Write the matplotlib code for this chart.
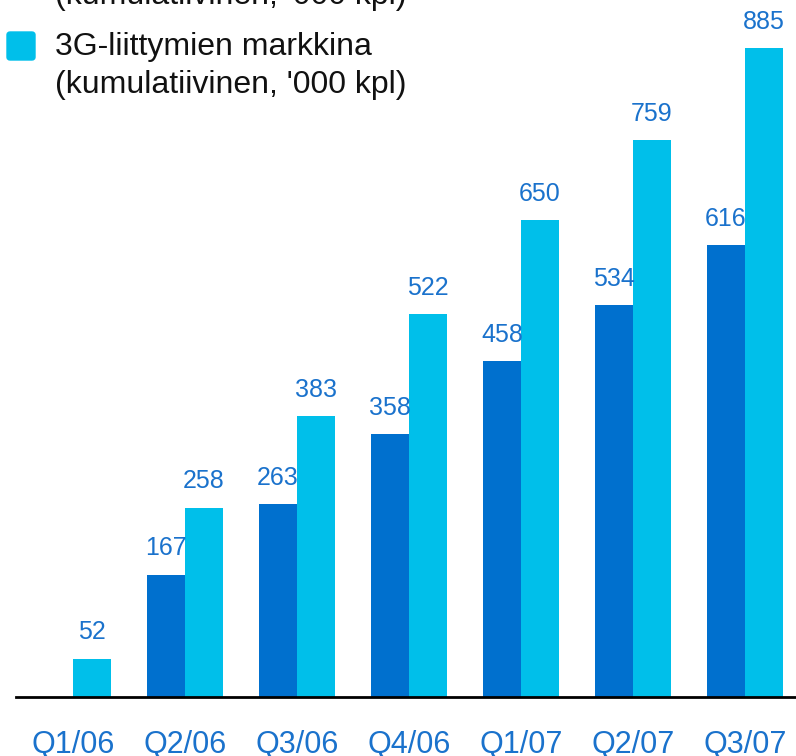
import numpy as np
import matplotlib
matplotlib.use("Agg")
import matplotlib.pyplot as plt
from matplotlib.patches import FancyBboxPatch

# Data
kvartaalit = ["Q1/06", "Q2/06", "Q3/06", "Q4/06", "Q1/07", "Q2/07", "Q3/07"]
elisa_3g = [np.nan, 167, 263, 358, 458, 534, 616]
markkina_3g = [52, 258, 383, 522, 650, 759, 885]

TUMMA = "#0070CE"
VAALEA = "#00BFEA"
TEKSTI_SININEN = "#1A72CC"

plt.rcParams["font.family"] = ["Liberation Sans", "DejaVu Sans"]

W, H = 796, 756
fig = plt.figure(figsize=(W / 100, H / 100), dpi=100)
ax = fig.add_axes([16 / W, 59 / H, 780 / W, 697 / H])

x = np.arange(len(kvartaalit))
leveys = 0.339

ax.bar(x - leveys / 2, elisa_3g, width=leveys, color=TUMMA)
ax.bar(x + leveys / 2, markkina_3g, width=leveys, color=VAALEA)

# arvolaput palkkien yläpuolelle
for xi, v in zip(x, elisa_3g):
    if np.isnan(v):
        continue
    ax.annotate(f"{v:.0f}", (xi - leveys / 2, v), xytext=(0, 14),
                textcoords="offset points", ha="center", va="baseline",
                fontsize=18, color=TEKSTI_SININEN)
for xi, v in zip(x, markkina_3g):
    ax.annotate(f"{v:.0f}", (xi + leveys / 2, v), xytext=(0, 14),
                textcoords="offset points", ha="center", va="baseline",
                fontsize=18, color=TEKSTI_SININEN)

ax.set_xlim((16 - 73) / 112, (796 - 73) / 112)
ax.set_ylim(0, 697 / 0.7333)

ax.set_xticks(x)
ax.set_xticklabels(kvartaalit, fontsize=22, color=TEKSTI_SININEN)
ax.tick_params(axis="x", length=0, pad=24)
ax.set_yticks([])
for s in ["top", "left", "right"]:
    ax.spines[s].set_visible(False)
ax.spines["bottom"].set_linewidth(2)
ax.spines["bottom"].set_color("black")
ax.set_facecolor("none")

# Selite (yläosa rajautunut pois kuvasta)
def fy(py):
    return 1 - py / H

fig.text(55 / W, fy(4), "(kumulatiivinen, '000 kpl)", fontsize=23,
         color="#111111", va="baseline", ha="left")
fig.text(55 / W, fy(55), "3G-liittymien markkina", fontsize=23,
         color="#111111", va="baseline", ha="left")
fig.text(55 / W, fy(93), "(kumulatiivinen, '000 kpl)", fontsize=23,
         color="#111111", va="baseline", ha="left")
ruutu = FancyBboxPatch((7 / W, fy(60)), 28 / W, 28 / H,
                       boxstyle="round,pad=0,rounding_size=0.004",
                       transform=fig.transFigure, color=VAALEA)
fig.patches.append(ruutu)

fig.savefig("out.png", dpi=100)
